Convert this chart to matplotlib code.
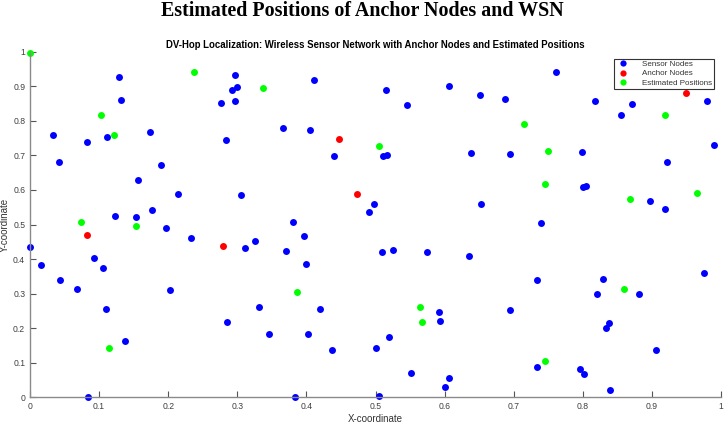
import matplotlib
matplotlib.use("Agg")
import matplotlib.pyplot as plt

sensor_x = [0.129, 0.297, 0.293, 0.300, 0.131, 0.277, 0.296, 0.034, 0.112, 0.173, 0.083, 0.283,
            0.042, 0.189, 0.156, 0.214, 0.306, 0.176, 0.123, 0.154, 0.197, 0.233, 0.311, 0.000,
            0.0155, 0.092, 0.105, 0.043, 0.068, 0.203, 0.110, 0.285, 0.137, 0.084,
            0.411, 0.515, 0.606, 0.651, 0.545, 0.366, 0.405, 0.440, 0.511, 0.516, 0.638,
            0.498, 0.490, 0.653, 0.380, 0.396, 0.326, 0.371, 0.510, 0.525, 0.575, 0.636,
            0.399, 0.332, 0.420, 0.592, 0.593, 0.346, 0.402, 0.520, 0.501, 0.437, 0.551,
            0.606, 0.601, 0.383, 0.505,
            0.761, 0.687, 0.817, 0.871, 0.856, 0.980, 0.990, 0.694, 0.799, 0.922, 0.801,
            0.805, 0.897, 0.919, 0.740, 0.975, 0.734, 0.829, 0.821, 0.881, 0.695, 0.838,
            0.834, 0.906, 0.734, 0.796, 0.802, 0.840]
sensor_y = [0.928, 0.932, 0.889, 0.897, 0.860, 0.852, 0.858, 0.759, 0.754, 0.767, 0.739, 0.744,
            0.682, 0.672, 0.629, 0.587, 0.586, 0.542, 0.525, 0.523, 0.490, 0.462, 0.431, 0.434,
            0.382, 0.402, 0.373, 0.338, 0.314, 0.311, 0.255, 0.219, 0.162, 0.002,
            0.919, 0.889, 0.901, 0.874, 0.845, 0.778, 0.773, 0.697, 0.698, 0.701, 0.706,
            0.558, 0.535, 0.560, 0.508, 0.468, 0.451, 0.424, 0.420, 0.426, 0.421, 0.410,
            0.385, 0.261, 0.255, 0.247, 0.222, 0.184, 0.182, 0.174, 0.144, 0.138, 0.070,
            0.057, 0.030, 0.001, 0.005,
            0.941, 0.862, 0.858, 0.850, 0.817, 0.858, 0.730, 0.704, 0.709, 0.682, 0.609,
            0.612, 0.568, 0.544, 0.503, 0.359, 0.340, 0.341, 0.299, 0.299, 0.254, 0.215,
            0.200, 0.137, 0.088, 0.083, 0.068, 0.022]

anchor_x = [0.083, 0.280, 0.447, 0.473, 0.950]
anchor_y = [0.470, 0.438, 0.747, 0.589, 0.880]

est_x = [0.000, 0.237, 0.103, 0.122, 0.074, 0.153, 0.114, 0.337, 0.505, 0.386, 0.564, 0.567,
         0.919, 0.715, 0.749, 0.746, 0.869, 0.965, 0.859, 0.746]
est_y = [0.997, 0.940, 0.817, 0.760, 0.506, 0.497, 0.143, 0.895, 0.728, 0.304, 0.260, 0.219,
         0.817, 0.792, 0.712, 0.616, 0.575, 0.590, 0.314, 0.106]

x_ticks = [0, 0.1, 0.2, 0.3, 0.4, 0.5, 0.6, 0.7, 0.8, 0.9, 1]
x_tick_labels = ["0", "0.1", "0.2", "0.3", "0.4", "0.5", "0.6", "0.7", "0.8", "0.9", "1"]
y_ticks = x_ticks
y_tick_labels = x_tick_labels

plt.rcParams['font.family'] = ['Liberation Sans', 'DejaVu Sans']

fig = plt.figure(figsize=(7.24, 4.24), dpi=100)
ax = fig.add_axes([30 / 724, (424 - 397.3) / 424, 691 / 724, 345.6 / 424])

ms = 5
ax.plot(sensor_x, sensor_y, 'o', color='#0000ff', ms=ms, mec='none', label='Sensor Nodes', clip_on=False)
ax.plot(anchor_x, anchor_y, 'o', color='#ff0000', ms=ms, mec='none', label='Anchor Nodes', clip_on=False)
ax.plot(est_x, est_y, 'o', color='#00ff00', ms=ms, mec='none', label='Estimated Positions', clip_on=False)

ax.set_xlim(0, 1)
ax.set_ylim(0, 1)
ax.set_xticks(x_ticks)
ax.set_xticklabels(x_tick_labels)
ax.set_yticks(y_ticks)
ax.set_yticklabels(y_tick_labels)

for s in ['top', 'right']:
    ax.spines[s].set_visible(False)
for s in ['left', 'bottom']:
    ax.spines[s].set_color('#8a8a8a')
    ax.spines[s].set_linewidth(1.0)
ax.tick_params(direction='in', length=4, width=0.8, color='#555555',
               labelsize=6.2, labelcolor='#404040', pad=3.5)

ax.set_xlabel('X-coordinate', fontsize=7.0, color='#333333')
ax.set_ylabel('Y-coordinate', fontsize=7.0, color='#333333')
ax.xaxis.set_label_coords(0.5, -(414 - 397.3) / 345.6)
ax.yaxis.set_label_coords(-20 / 691, 0.5)
ax.set_title('DV-Hop Localization: Wireless Sensor Network with Anchor Nodes and Estimated Positions',
             fontsize=6.9, fontweight='bold', pad=3)

fig.suptitle('Estimated Positions of Anchor Nodes and WSN', fontsize=14.4, fontweight='bold',
             family=['Liberation Serif', 'DejaVu Serif'], x=362 / 724, y=1 - 11.5 / 424, va='center')

leg = ax.legend(loc='upper right', bbox_to_anchor=(714 / 724, 1 - 58.5 / 424), bbox_transform=fig.transFigure,
                fontsize=5.8, frameon=True, fancybox=False, edgecolor='#333333', framealpha=1,
                handletextpad=1.6, borderpad=0.25, labelspacing=0.2, borderaxespad=0, handlelength=1.6,
                markerscale=0.9)
leg.get_frame().set_linewidth(0.8)
for t in leg.get_texts():
    t.set_color('#333333')

fig.savefig('out.png', dpi=100)
